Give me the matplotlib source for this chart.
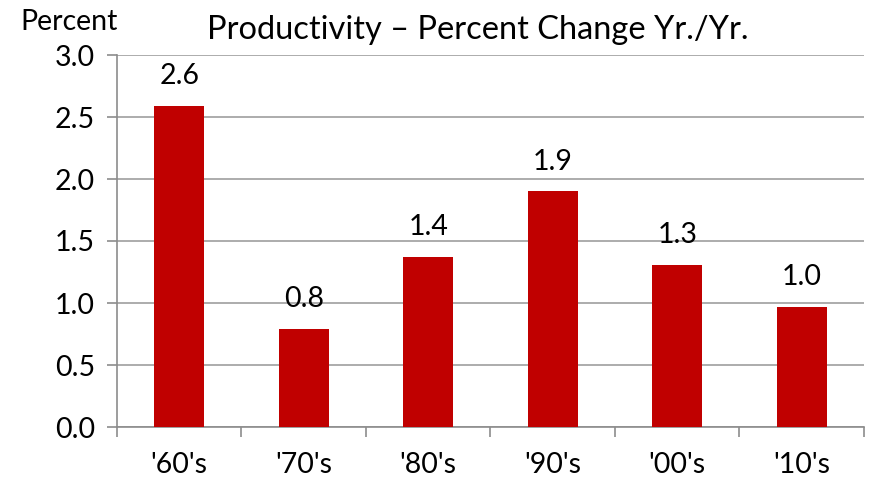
import matplotlib
matplotlib.use("Agg")
import matplotlib.pyplot as plt

categories = ["'60's", "'70's", "'80's", "'90's", "'00's", "'10's"]
values = [2.59, 0.79, 1.37, 1.90, 1.31, 0.97]
labels = ["2.6", "0.8", "1.4", "1.9", "1.3", "1.0"]
yticks = [0.0, 0.5, 1.0, 1.5, 2.0, 2.5, 3.0]

plt.rcParams['font.family'] = ['Lato', 'DejaVu Sans']
fig = plt.figure(figsize=(8.7, 4.8), dpi=100)
ax = fig.add_axes([117/870, 1-427/480, (864-117)/870, (427-55)/480])

x = list(range(len(categories)))
ax.bar(x, values, width=0.4, color='#C00000', zorder=3)
for xi, v, lab in zip(x, values, labels):
    ax.annotate(lab, (xi, v), xytext=(0, 12), textcoords='offset points',
                ha='center', va='bottom', fontsize=20.5, color='black')

ax.set_xlim(-0.5, len(categories) - 0.5)
ax.set_ylim(0, 3.0)
ax.set_yticks(yticks)
ax.set_yticklabels([f"{t:.1f}" for t in yticks], fontsize=20.5)
ax.set_xticks([i - 0.5 for i in range(len(categories) + 1)], minor=False)
ax.set_xticklabels([])
ax.set_xticks(x, minor=True)
ax.set_xticklabels(categories, minor=True, fontsize=20.5)
ax.tick_params(axis='x', which='minor', length=0, pad=18)
ax.tick_params(axis='x', which='major', length=7, color='#8c8c8c', width=1.2, direction='out')
ax.tick_params(axis='y', length=7, color='#8c8c8c', width=1.2, pad=9)
ax.yaxis.grid(True, color='#a6a6a6', linewidth=1.3, zorder=0)
for s in ['top', 'right']:
    ax.spines[s].set_visible(False)
for s in ['left', 'bottom']:
    ax.spines[s].set_color('#8c8c8c')
    ax.spines[s].set_linewidth(1.2)

fig.text(478/870, 1-30/480, "Productivity – Percent Change Yr./Yr.", ha='center', va='center', fontsize=23.5)
fig.text(69/870, 1-22/480, "Percent", ha='center', va='center', fontsize=20.5)

fig.savefig("out.png", dpi=100)
